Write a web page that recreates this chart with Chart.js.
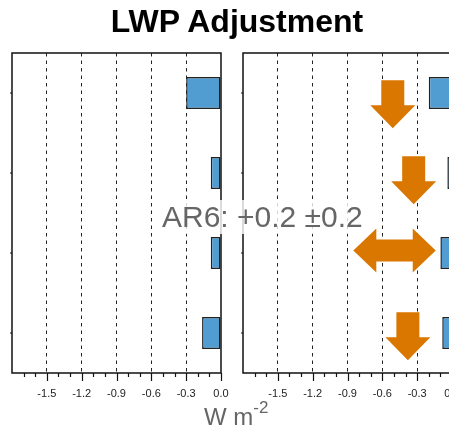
<!DOCTYPE html>
<html>
<head>
<meta charset="utf-8">
<script src="https://cdn.jsdelivr.net/npm/chart.js@4.4.0/dist/chart.umd.min.js"></script>
<style>
  html, body { margin: 0; padding: 0; width: 449px; height: 428px; overflow: hidden; background: #fff;
    font-family: "Liberation Sans", Arial, Helvetica, sans-serif; }
  canvas { position: absolute; top: 0; }
  #title { position: absolute; left: 0; width: 474px; top: 6px; text-align: center; font-weight: bold;
    font-size: 32px; line-height: 31px; color: #000; }
  #ar6 { position: absolute; left: 161px; top: 200px; font-size: 30px; line-height: normal; color: #666;
    background: rgba(255, 255, 255, 0.8); white-space: nowrap; padding: 0 1px; }
  #xlab { position: absolute; left: 204px; top: 405px; font-size: 24px; line-height: 24px; color: #666; white-space: nowrap; }
  #xlab span { font-size: 17px; position: relative; top: -12px; }
</style>
</head>
<body>
<canvas id="left" width="232" height="428" style="left:0"></canvas>
<canvas id="right" width="232" height="428" style="left:231px"></canvas>
<div id="title">LWP Adjustment</div>
<div id="ar6">AR6: +0.2 ±0.2</div>
<div id="xlab">W m<span>-2</span></div>
<script>
// rows of the figure, top to bottom
const categories = ["Row 1", "Row 2", "Row 3", "Row 4"];
const leftValues = [-0.30, -0.088, -0.088, -0.163];
const rightValues = [-0.20, -0.04, -0.10, -0.084];

// x axis
const xMin = -1.8;
const xMax = 0.0;
const majorTicks = [-1.5, -1.2, -0.9, -0.6, -0.3, 0.0];
const minorTicks = [-1.7, -1.6, -1.4, -1.3, -1.1, -1.0, -0.8, -0.7, -0.5, -0.4, -0.2, -0.1];

// orange arrows in the right panel (x in W m-2, y in row units)
const downArrowX = [-0.51, -0.33, -0.38];
const downArrowRow = [0.14, 1.09, 3.04];
const wideArrowFrom = [-0.85];
const wideArrowTo = [-0.14];
const wideArrowRow = [1.97];

const blue = "#519dd1";
const orange = "#d97700";

// box, tick marks round the plot area
const framePlugin = {
  id: "frame",
  afterDraw(chart) {
    const ctx = chart.ctx;
    const a = chart.chartArea;
    const x = chart.scales.x;
    const y = chart.scales.y;
    ctx.save();
    ctx.strokeStyle = "#111";
    ctx.lineWidth = 1.5;
    ctx.strokeRect(a.left, a.top, a.right - a.left, a.bottom - a.top);
    ctx.lineWidth = 1.2;
    ctx.beginPath();
    majorTicks.forEach(v => {
      const px = Math.round(x.getPixelForValue(v)) + 0.5;
      ctx.moveTo(px, a.bottom);
      ctx.lineTo(px, a.bottom + 8);
    });
    minorTicks.forEach(v => {
      const px = Math.round(x.getPixelForValue(v)) + 0.5;
      ctx.moveTo(px, a.bottom);
      ctx.lineTo(px, a.bottom + 4);
    });
    categories.forEach((c, i) => {
      const py = y.getPixelForValue(i);
      ctx.moveTo(a.left, py);
      ctx.lineTo(a.left - 2, py);
    });
    ctx.stroke();
    ctx.restore();
  }
};

const arrowPlugin = {
  id: "arrows",
  afterDatasetsDraw(chart) {
    const ctx = chart.ctx;
    const x = chart.scales.x;
    const y = chart.scales.y;
    ctx.save();
    ctx.fillStyle = orange;
    downArrowX.forEach((v, i) => {
      const cx = x.getPixelForValue(v);
      const cy = y.getPixelForValue(downArrowRow[i]);
      const top = cy - 24, base = cy + 1, tip = cy + 24;
      ctx.beginPath();
      ctx.moveTo(cx - 11.5, top);
      ctx.lineTo(cx + 11.5, top);
      ctx.lineTo(cx + 11.5, base);
      ctx.lineTo(cx + 22.5, base);
      ctx.lineTo(cx, tip);
      ctx.lineTo(cx - 22.5, base);
      ctx.lineTo(cx - 11.5, base);
      ctx.closePath();
      ctx.fill();
    });
    wideArrowFrom.forEach((v, i) => {
      const x1 = x.getPixelForValue(v);
      const x2 = x.getPixelForValue(wideArrowTo[i]);
      const cy = y.getPixelForValue(wideArrowRow[i]);
      ctx.beginPath();
      ctx.moveTo(x1, cy);
      ctx.lineTo(x1 + 23, cy - 22);
      ctx.lineTo(x1 + 23, cy - 11);
      ctx.lineTo(x2 - 23, cy - 11);
      ctx.lineTo(x2 - 23, cy - 22);
      ctx.lineTo(x2, cy);
      ctx.lineTo(x2 - 23, cy + 22);
      ctx.lineTo(x2 - 23, cy + 11);
      ctx.lineTo(x1 + 23, cy + 11);
      ctx.lineTo(x1 + 23, cy + 22);
      ctx.closePath();
      ctx.fill();
    });
    ctx.restore();
  }
};

function createPanel(id, values, extra) {
  const ctx = document.getElementById(id).getContext("2d");
  return new Chart(ctx, {
    type: "bar",
    data: {
      labels: categories,
      datasets: [{
        data: values,
        backgroundColor: blue,
        borderColor: "#222",
        borderWidth: 1.5,
        borderSkipped: false,
        barPercentage: 0.4,
        categoryPercentage: 1.0
      }]
    },
    options: {
      indexAxis: "y",
      responsive: false,
      animation: false,
      devicePixelRatio: 1,
      layout: { padding: { left: 12, right: 11, top: 53, bottom: 0 } },
      plugins: { legend: { display: false }, tooltip: { enabled: false } },
      scales: {
        x: {
          type: "linear",
          min: xMin,
          max: xMax,
          afterBuildTicks(scale) {
            scale.ticks = [xMin].concat(majorTicks).map(v => ({ value: v }));
          },
          afterFit(scale) {
            scale.height = 55;
            scale.paddingLeft = 0;
            scale.paddingRight = 0;
          },
          ticks: {
            color: "#222",
            font: { family: "Liberation Sans, Arial, sans-serif", size: 11 },
            padding: 14,
            maxRotation: 0,
            autoSkip: false,
            callback: v => (v < -1.75 ? "" : v.toFixed(1))
          },
          grid: {
            drawTicks: false,
            color: c => {
              const v = c.tick ? c.tick.value : 0;
              return (v < -1.75 || Math.abs(v) < 1e-6) ? "rgba(0,0,0,0)" : "#222";
            },
            lineWidth: 1
          },
          border: { display: false, dash: [3.5, 4] }
        },
        y: { type: "category", display: false }
      }
    },
    plugins: [framePlugin].concat(extra)
  });
}

createPanel("left", leftValues, []);
createPanel("right", rightValues, [arrowPlugin]);
</script>
</body>
</html>
